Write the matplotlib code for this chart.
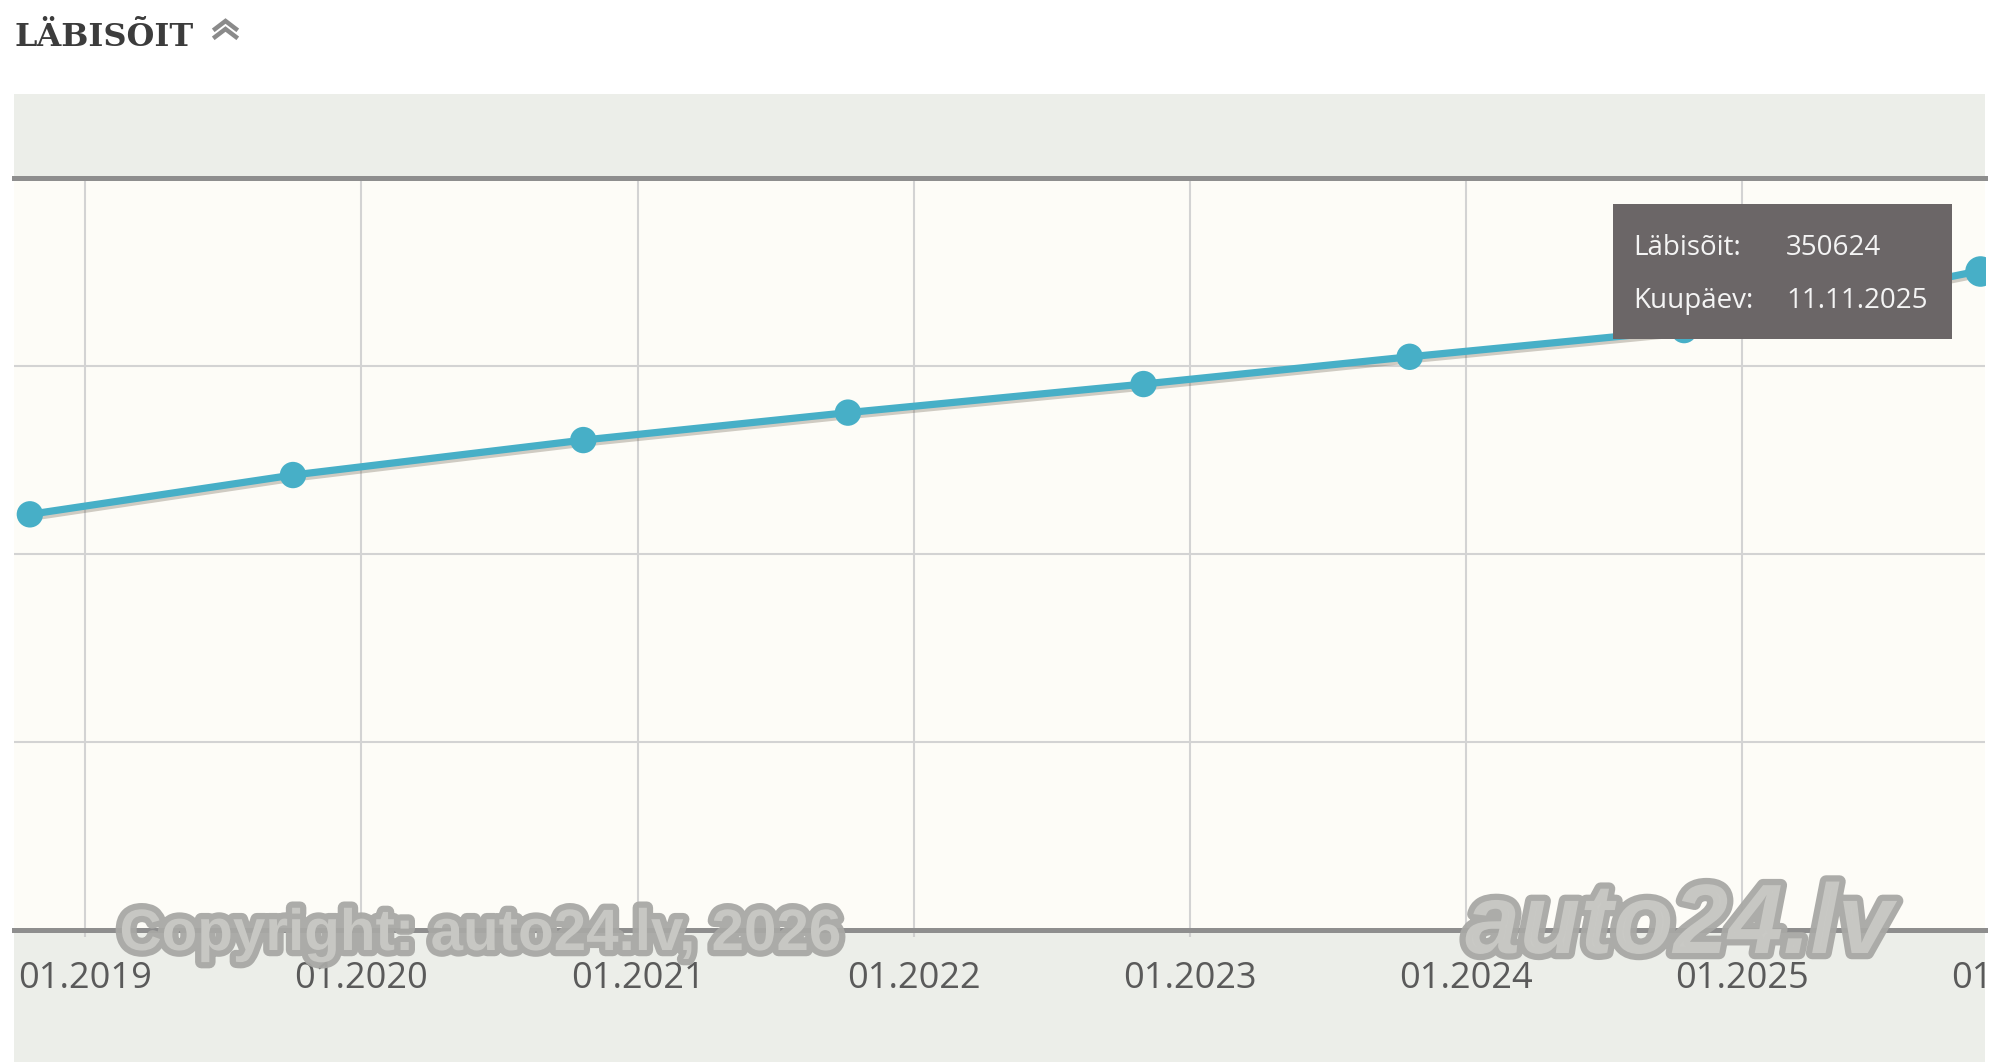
import matplotlib
matplotlib.use("Agg")
import matplotlib.pyplot as plt
import matplotlib.patheffects as pe
from matplotlib.patches import Rectangle
from matplotlib.lines import Line2D
from matplotlib.transforms import Bbox, TransformedBbox
import datetime as dt

# ---------------- data ----------------
dates = ["2018-10-20", "2019-10-03", "2020-10-21", "2021-10-06",
         "2022-11-01", "2023-10-19", "2024-10-16", "2025-11-11"]
mileage = [221100, 242000, 260600, 275200, 290400, 304900, 319100, 350624]
tick_years = [2019, 2020, 2021, 2022, 2023, 2024, 2025, 2026]
title = "LÄBISÕIT"
tip_labels = ["Läbisõit:", "Kuupäev:"]

x = [dt.datetime.strptime(d, "%Y-%m-%d") for d in dates]

W, H = 2000, 1062
fig = plt.figure(figsize=(W / 100, H / 100), dpi=100)
fig.patch.set_facecolor("white")

def fx(px):
    return px / W

def fy(py):  # top-origin pixel -> figure fraction
    return 1 - py / H

# background bands (behind the axes)
fig.patches.append(Rectangle((fx(14), fy(178)), fx(1971), fy(94) - fy(178),
                             transform=fig.transFigure, facecolor="#ECEEE9", edgecolor="none", zorder=-5))
fig.patches.append(Rectangle((fx(14), 0), fx(1971), fy(930),
                             transform=fig.transFigure, facecolor="#ECEEE9", edgecolor="none", zorder=-5))

# axes
ax = fig.add_axes([fx(14), fy(930), fx(1971), fy(178) - fy(930)])
ax.set_zorder(1)
ax.set_facecolor("#FDFCF7")
ax.set_xlim(dt.datetime(2018, 9, 29), dt.datetime(2025, 11, 18))
ax.set_ylim(0, 400000)
ax.set_yticks([0, 100000, 200000, 300000, 400000])
ax.set_yticklabels([])
ax.tick_params(axis="y", length=0)

LABEL_OFF = 49  # px below the axis bottom (label centre)
ticks = [dt.datetime(y, 1, 1) for y in tick_years]
ax.set_xticks(ticks[:-1])
ax.set_xticklabels(["01.%d" % y for y in tick_years[:-1]])
ax.tick_params(axis="x", length=5, width=1.5, color="#CFCFCF", pad=LABEL_OFF / 1.3889 - 5,
               labelsize=26, labelcolor="#5A5A5A")
for lab in ax.get_xticklabels():
    lab.set_fontfamily("Open Sans")
    lab.set_va("center")

ax.grid(True, color="#D3D3D3", linewidth=1.5, zorder=1)
ax.set_axisbelow(True)
for s in ["left", "right"]:
    ax.spines[s].set_visible(False)
for s in ["top", "bottom"]:
    ax.spines[s].set_color("#8E8E8E")
    ax.spines[s].set_linewidth(3.6)
    ax.spines[s].set_zorder(3)

# extra clipped label for 01.2026 (cut at the chart's right edge)
t26 = ax.text(ticks[-1], -LABEL_OFF / 752, "01.%d" % tick_years[-1], transform=ax.get_xaxis_transform(),
              ha="center", va="center", fontsize=26, color="#5A5A5A", family="Open Sans", clip_on=True)
t26.set_clip_box(TransformedBbox(Bbox([[fx(14), 0], [fx(1985), 1]]), fig.transFigure))

# line
col = "#47AFC7"
ax.plot(x, mileage, color=col, linewidth=5.2, marker="o", markersize=19,
        markeredgewidth=0, solid_capstyle="round", zorder=4,
        path_effects=[pe.SimpleLineShadow(offset=(2, -2), shadow_color="#7a7060", alpha=0.35),
                      pe.Normal()])
ax.plot(x[-1:], mileage[-1:], color=col, linestyle="none", marker="o", markersize=22,
        markeredgewidth=0, zorder=5)

# tooltip
fig.patches.append(Rectangle((fx(1613), fy(339)), fx(339), fy(204) - fy(339),
                             transform=fig.transFigure, facecolor="#6B6667", edgecolor="none", zorder=10))
tip_vals = [str(mileage[-1]), x[-1].strftime("%d.%m.%Y")]
for i, (lab, val) in enumerate(zip(tip_labels, tip_vals)):
    yb = fy(255 + 53 * i)
    fig.text(fx(1633), yb, lab, fontsize=20, color="#F4F4F4", family="Open Sans",
             va="baseline", ha="left", zorder=11)
    fig.text(fx(1786), yb, val, fontsize=20, color="#F4F4F4", family="Open Sans",
             va="baseline", ha="left", zorder=11)

# title + chevron icon
fig.text(fx(15), fy(46.5), title, fontsize=23, fontweight="bold", family="DejaVu Serif",
         color="#3C3C3C", va="baseline", ha="left")
for dy in (0, 8):
    fig.lines.append(Line2D([fx(215), fx(225.5), fx(236)], [fy(29 + dy), fy(21 + dy), fy(29 + dy)],
                            transform=fig.transFigure, color="#8A8A8A", linewidth=3.2,
                            solid_joinstyle="miter"))

# watermarks
wm_fx = [pe.withStroke(linewidth=9, foreground="#A8A8A5")]
fig.text(fx(481), fy(950), "Copyright: auto24.lv, 2026", fontsize=42, fontweight="bold",
         family="Liberation Sans", color="#C9C9C5", ha="center", va="baseline",
         path_effects=wm_fx, alpha=0.95, zorder=20)
fig.text(fx(1679), fy(953), "auto24.lv", fontsize=71, fontweight="bold", style="italic",
         family="Liberation Sans", color="#C9C9C5", ha="center", va="baseline",
         path_effects=wm_fx, alpha=0.95, zorder=20)

fig.savefig("out.png", dpi=100, facecolor="white")
